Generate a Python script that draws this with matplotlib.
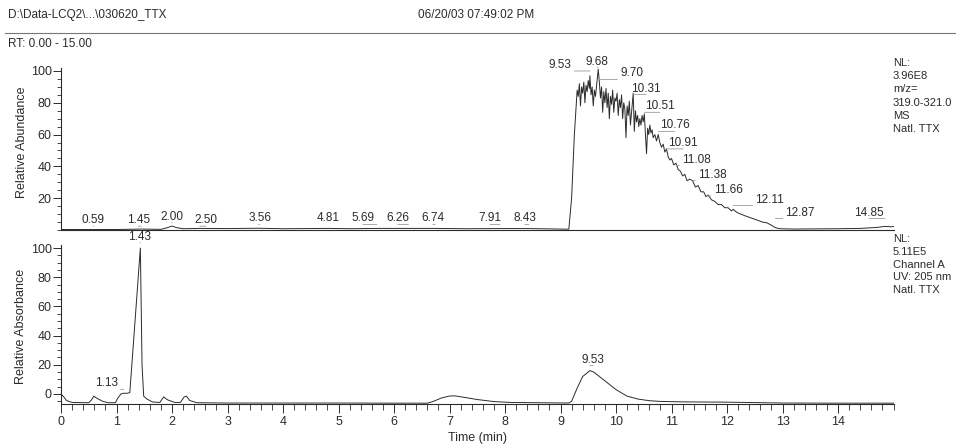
import matplotlib
matplotlib.use("Agg")
import matplotlib.pyplot as plt
from matplotlib.ticker import MultipleLocator, FixedLocator
from matplotlib.lines import Line2D

plt.rcParams['font.family'] = ['Liberation Sans', 'DejaVu Sans']

# MS trace (m/z 319-321), relative abundance
ms_time = [0.0, 0.5, 1.0, 1.45, 1.8, 1.92, 2.0, 2.08, 2.2, 2.5, 3.0, 3.56, 4.0, 4.81, 5.2,
           5.69, 6.26, 6.74, 7.3, 7.91, 8.43, 9.0, 9.15, 9.2, 9.25, 9.3,
           9.32, 9.34, 9.36, 9.38, 9.40, 9.42, 9.44, 9.46, 9.48, 9.50, 9.52, 9.53, 9.55, 9.57,
           9.59, 9.61, 9.63, 9.65, 9.68, 9.70, 9.72, 9.74, 9.76, 9.78, 9.80, 9.82, 9.84, 9.86,
           9.88, 9.90, 9.92, 9.94, 9.96, 9.98, 10.00, 10.02, 10.04, 10.06, 10.08, 10.10, 10.12,
           10.14, 10.16, 10.18, 10.20, 10.22, 10.24, 10.26, 10.28, 10.31, 10.33, 10.35, 10.37,
           10.39, 10.41, 10.43, 10.45, 10.47, 10.49, 10.51, 10.53, 10.55, 10.57, 10.59, 10.61,
           10.63, 10.65, 10.67, 10.70, 10.73, 10.76, 10.79, 10.82, 10.85, 10.88, 10.91, 10.94,
           10.97, 11.00, 11.04, 11.08, 11.12, 11.16, 11.20, 11.24, 11.28, 11.33, 11.38, 11.43,
           11.48, 11.53, 11.58, 11.62, 11.66, 11.72, 11.78, 11.84, 11.90, 11.96, 12.02, 12.08,
           12.11, 12.18, 12.25, 12.32, 12.40, 12.48, 12.56, 12.64, 12.72, 12.80, 12.87, 12.95,
           13.2, 13.6, 14.0, 14.4, 14.7, 14.85, 14.95, 15.0]
ms_abund = [0.3, 0.3, 0.3, 0.6, 0.4, 1.5, 2.5, 1.5, 0.8, 1.0, 0.9, 1.1, 0.8, 1.0, 0.8,
            1.0, 1.0, 1.0, 0.8, 0.9, 0.9, 0.6, 0.5, 20, 60, 88,
            84, 92, 78, 90, 86, 93, 80, 91, 87, 94, 89, 97, 85, 90,
            78, 88, 84, 91, 101, 93, 83, 90, 74, 87, 80, 89, 77, 86,
            70, 84, 79, 88, 74, 83, 81, 86, 72, 82, 77, 85, 70,
            80, 76, 58, 78, 72, 81, 66, 74, 86, 62, 75, 68,
            72, 65, 70, 66, 72, 68, 73, 60, 48, 64, 60, 66,
            61, 63, 58, 60, 56, 60, 55, 52, 54, 49, 51, 46,
            44, 45, 41, 42, 38, 37, 34, 35, 31, 32, 31, 27,
            28, 24, 24, 21, 22, 19, 18, 16, 16, 14, 14, 12,
            13, 11, 10, 9, 8, 7, 6, 5, 4.5, 3, 1.5, 0.8,
            0.6, 0.7, 0.8, 1.0, 1.6, 2.3, 2.0, 2.2]

# UV trace (205 nm), relative absorbance
uv_time = [0.0, 0.05, 0.1, 0.2, 0.5, 0.55, 0.59, 0.65, 0.75, 0.85, 0.98, 1.02, 1.08, 1.13,
           1.2, 1.24, 1.43, 1.46, 1.49, 1.55, 1.65, 1.78, 1.85, 1.92, 2.05, 2.15, 2.22, 2.26,
           2.32, 2.45, 3.0, 4.0, 5.0, 6.0, 6.6, 6.7, 6.85, 7.0, 7.1, 7.25, 7.5, 7.8, 8.1, 8.6,
           9.15, 9.2, 9.3, 9.4, 9.53, 9.6, 9.7, 9.85, 10.0, 10.2, 10.4, 10.6, 10.8, 11.2, 12.0,
           12.5, 13.0, 14.0, 15.0]
uv_abs = [0.0, -2.0, -4.5, -5.8, -6.0, -4.0, -1.5, -3.0, -5.0, -6.0, -6.0, -3.0, 0.0, 0.5,
          0.5, 1.0, 100, 20, -1.5, -3.5, -5.5, -5.8, -2.0, -4.0, -5.8, -5.8, -2.0, -1.5,
          -4.5, -6.0, -6.2, -6.2, -6.2, -6.3, -6.3, -5.2, -2.8, -1.4, -1.3, -2.2, -3.8, -5.2, -5.8, -6.0,
          -6.2, -5.0, 4.0, 12.0, 16.0, 15.0, 12.0, 7.5, 3.0, -1.5, -3.5, -4.6, -5.1, -5.4, -5.6,
          -5.9, -6.2, -6.3, -6.3]

# peak labels: text, label x, label bottom y
ms_labels = ['0.59', '1.45', '2.00', '2.50', '3.56', '4.81', '5.69', '6.26', '6.74', '7.91',
             '8.43', '9.53', '9.68', '9.70', '10.31', '10.51', '10.76', '10.91', '11.08',
             '11.38', '11.66', '12.11', '12.87', '14.85']
ms_label_x = [0.58, 1.39, 1.99, 2.61, 3.58, 4.81, 5.44, 6.07, 6.70, 7.73,
              8.36, 8.99, 9.66, 10.28, 10.54, 10.79, 11.06, 11.21, 11.45,
              11.74, 12.02, 12.77, 13.32, 14.56]
ms_label_y = [2.4, 2.4, 4.5, 2.4, 3.5, 3.5, 3.5, 3.5, 3.5, 3.5,
              3.5, 100, 102, 94.7, 85.2, 74, 62, 51, 40.5,
              31, 21.4, 15.4, 7.2, 7.2]

uv_labels = ['1.13', '1.43', '9.53']
uv_label_x = [0.82, 1.42, 9.59]
uv_label_y = [3.1, 103.6, 19.5]

ms_note = ['NL:', '3.96E8', 'm/z=', '319.0-321.0', 'MS', 'Natl. TTX']
uv_note = ['NL:', '5.11E5', 'Channel A', 'UV: 205 nm', 'Natl. TTX']

W, H = 958, 448
fig = plt.figure(figsize=(W / 100, H / 100), dpi=100)
fig.patch.set_facecolor('white')

ink = '#2b2b2b'
x0 = 61 / W
xw = (893.5 - 61) / W
ax1 = fig.add_axes([x0, 1 - 230 / H, xw, (230 - 67.8) / H])
ax2 = fig.add_axes([x0, 1 - 404.2 / H, xw, (404.2 - 245.1) / H])

ax1.plot(ms_time, ms_abund, color=ink, lw=0.7)
ax2.plot(uv_time, uv_abs, color=ink, lw=0.7)

for ax in (ax1, ax2):
    ax.set_xlim(0, 15)
    for s in ('top', 'right'):
        ax.spines[s].set_visible(False)
    for s in ('left', 'bottom'):
        ax.spines[s].set_color(ink)
        ax.spines[s].set_linewidth(0.8)
    ax.tick_params(axis='y', which='major', direction='out', length=5.5, width=0.7,
                   color=ink, labelsize=9, labelcolor=ink, pad=1.2)
    ax.tick_params(axis='y', which='minor', direction='out', length=3, width=0.6, color=ink)
    ax.yaxis.set_minor_locator(MultipleLocator(5))

ax1.set_ylim(0, 102)
ax1.yaxis.set_major_locator(FixedLocator([20, 40, 60, 80, 100]))
ax1.tick_params(axis='x', which='both', bottom=False, labelbottom=False)

ax2.set_ylim(-7, 102)
ax2.yaxis.set_major_locator(FixedLocator([0, 20, 40, 60, 80, 100]))
ax2.yaxis.set_minor_locator(FixedLocator(list(range(-5, 101, 5))))
ax2.xaxis.set_major_locator(FixedLocator(list(range(0, 15))))
ax2.xaxis.set_minor_locator(MultipleLocator(0.2))
ax2.tick_params(axis='x', which='major', direction='out', length=6.5, width=0.7,
                color=ink, labelsize=9, labelcolor=ink, pad=2)
ax2.tick_params(axis='x', which='minor', direction='out', length=4.3, width=0.6, color=ink)


def put_labels(ax, labels, xs, ys):
    # peak time is the label itself; a grey leader runs from the text to it
    for lab, lx, ly in zip(labels, xs, ys):
        ax.annotate(lab, xy=(float(lab), ly), xytext=(lx, ly), ha='center', va='bottom',
                    fontsize=8.5, color=ink, annotation_clip=False,
                    arrowprops=dict(arrowstyle='-', color='#9a9a9a', lw=0.6,
                                    shrinkA=0, shrinkB=0, relpos=(0.5, 0.0)))


put_labels(ax1, ms_labels, ms_label_x, ms_label_y)
put_labels(ax2, uv_labels, uv_label_x, uv_label_y)

# axis titles
fig.text(22 / W, 1 - 142 / H, 'Relative Abundance', rotation=90, ha='center', va='center',
         fontsize=9, color=ink)
fig.text(21 / W, 1 - 326 / H, 'Relative Absorbance', rotation=90, ha='center', va='center',
         fontsize=9, color=ink)
fig.text(477 / W, 1 - 438 / H, 'Time (min)', ha='center', va='center', fontsize=9, color=ink)

# header
fig.text(8 / W, 1 - 15 / H, 'D:\\Data-LCQ2\\...\\030620_TTX', ha='left', va='center',
         fontsize=8.5, color=ink)
fig.text(476 / W, 1 - 15 / H, '06/20/03 07:49:02 PM', ha='center', va='center',
         fontsize=8.5, color=ink)
fig.add_artist(Line2D([5 / W, 955 / W], [1 - 32.7 / H, 1 - 32.7 / H], color='#777777', lw=0.8))
fig.text(8 / W, 1 - 44 / H, 'RT: 0.00 - 15.00', ha='left', va='center', fontsize=8.5, color=ink)

# side notes
for i, line in enumerate(ms_note):
    fig.text(893 / W, 1 - (63 + 13.2 * i) / H, line, ha='left', va='center', fontsize=8, color=ink)
for i, line in enumerate(uv_note):
    fig.text(893 / W, 1 - (239 + 12.8 * i) / H, line, ha='left', va='center', fontsize=8, color=ink)

fig.savefig('out.png', dpi=100, facecolor='white')
